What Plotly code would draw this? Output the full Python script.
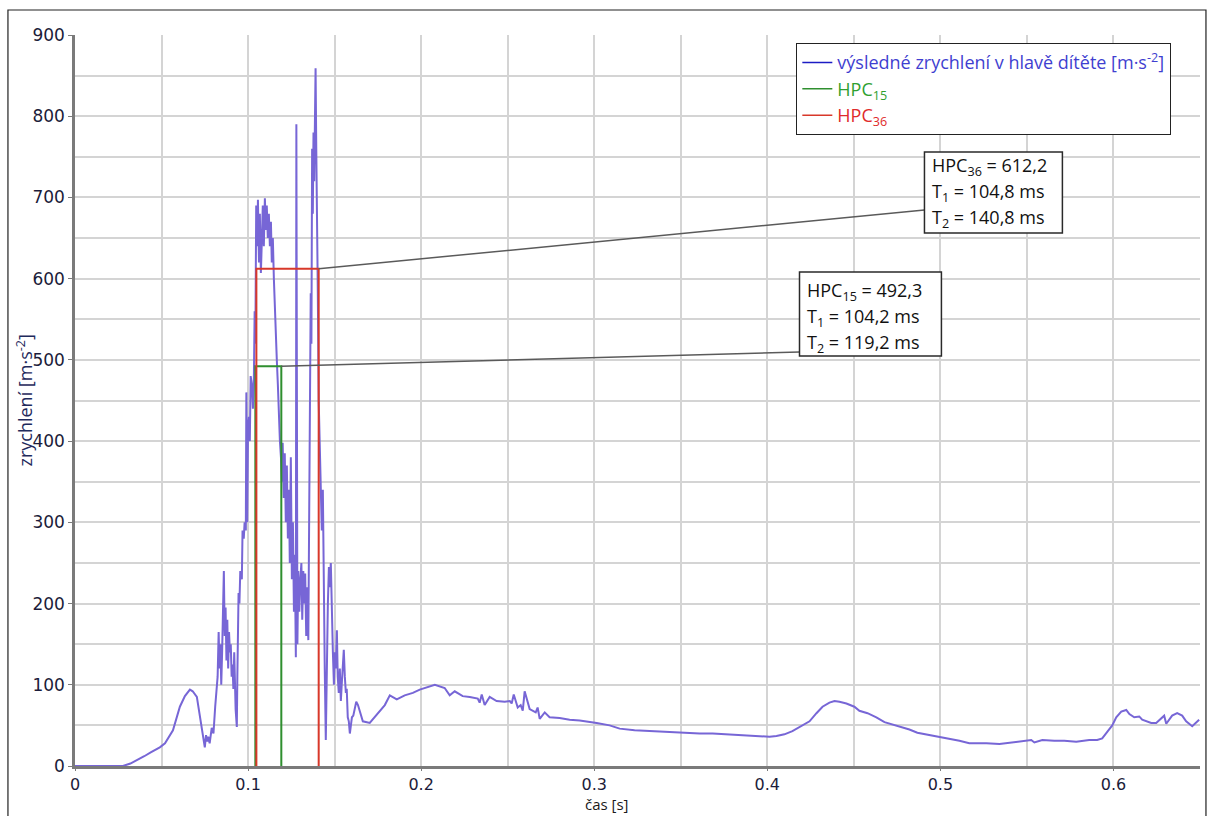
import plotly.graph_objects as go

# ---------------- data ----------------
t = [0.000, 0.010, 0.020, 0.0277, 0.032, 0.036, 0.040, 0.044, 0.049, 0.052, 0.0566, 0.0606,
     0.0635, 0.0664, 0.068, 0.0704, 0.0722, 0.0735, 0.075, 0.0757, 0.0765, 0.077, 0.0778,
     0.079, 0.080, 0.081, 0.0818, 0.0824, 0.083, 0.0835, 0.084, 0.0845, 0.085, 0.086,
     0.0865, 0.087, 0.0875, 0.088, 0.0885, 0.089, 0.0895, 0.090, 0.0905, 0.091, 0.0915,
     0.092, 0.0928, 0.0935, 0.0938, 0.0945, 0.095, 0.0955, 0.0964, 0.0968, 0.0975, 0.098,
     0.0987, 0.099, 0.0995, 0.100, 0.1005, 0.101, 0.1015, 0.1022, 0.1028, 0.1033, 0.1038,
     0.1042, 0.1047, 0.1052, 0.1057, 0.1063, 0.1068, 0.1074, 0.108, 0.1085, 0.1091, 0.1097,
     0.1103, 0.1108, 0.1114, 0.112, 0.1126, 0.1132, 0.1137, 0.1143, 0.1149, 0.1155, 0.116,
     0.1166, 0.1172, 0.1178, 0.1184, 0.119, 0.1195, 0.120, 0.1206, 0.1212, 0.1218, 0.1224,
     0.123, 0.1236, 0.1241, 0.1247, 0.1253, 0.1259, 0.1265, 0.127, 0.1276, 0.1279, 0.1285,
     0.129, 0.1296, 0.1302, 0.1308, 0.1313, 0.1319, 0.1325, 0.133, 0.1336, 0.1342, 0.1348,
     0.1353, 0.1357, 0.1362, 0.1366, 0.137, 0.1374, 0.1378, 0.1382, 0.1386, 0.139, 0.1394,
     0.1398, 0.1403, 0.1408, 0.1413, 0.142, 0.1426, 0.1432, 0.1437, 0.1443, 0.1449, 0.1455,
     0.1461, 0.1467, 0.1472, 0.1478, 0.1484, 0.149, 0.1496, 0.1501, 0.1507, 0.1513, 0.1518,
     0.1524, 0.153, 0.1536, 0.1541, 0.1547, 0.1553, 0.1559, 0.1565, 0.157, 0.1576, 0.1582,
     0.1588, 0.1594, 0.160, 0.1608, 0.1617, 0.1625, 0.1635, 0.1645, 0.1655, 0.1663, 0.1703,
     0.1749, 0.179, 0.1819, 0.1859, 0.1905, 0.1952, 0.1992, 0.2038, 0.2079, 0.2136, 0.2165,
     0.2194, 0.224, 0.2281, 0.2327, 0.2338, 0.235, 0.2367, 0.2396, 0.2436, 0.2483, 0.2512,
     0.2523, 0.2535, 0.2558, 0.2575, 0.2587, 0.2598, 0.2627, 0.2662, 0.2673, 0.2685, 0.2714,
     0.2742, 0.280, 0.2858, 0.2916, 0.3014, 0.3089, 0.3147, 0.3233, 0.332, 0.3406, 0.3493,
     0.3609, 0.3684, 0.3782, 0.3868, 0.3938, 0.4013, 0.4053, 0.4099, 0.4145, 0.4186, 0.4244,
     0.4284, 0.4319, 0.4359, 0.4388, 0.4417, 0.4457, 0.4503, 0.4532, 0.4579, 0.463, 0.4677,
     0.4723, 0.4763, 0.4821, 0.4867, 0.4919, 0.4965, 0.5012, 0.5052, 0.511, 0.5167, 0.5266,
     0.5341, 0.5381, 0.5427, 0.5497, 0.5525, 0.5543, 0.5589, 0.5658, 0.5716, 0.5785, 0.586,
     0.5906, 0.5935, 0.5964, 0.5993, 0.6016, 0.6045, 0.6074, 0.6092, 0.612, 0.6149, 0.6166,
     0.6218, 0.6247, 0.6264, 0.6282, 0.6293, 0.6305, 0.6339, 0.6368, 0.6397, 0.642, 0.6455,
     0.6495]
a = [0, 0, 0, 0, 3, 7, 12, 17, 23, 28, 44, 73,
     86, 94, 92, 85, 60, 40, 23, 38, 30, 36, 28,
     47, 40, 73, 90, 110, 165, 120, 150, 100, 140, 240,
     160, 195, 130, 180, 120, 165, 140, 150, 110, 125, 95, 140,
     70, 48, 110, 213, 200, 240, 230, 290, 280, 300, 290,
     460, 300, 420, 430, 400, 480, 470, 440, 470, 560, 520,
     690, 640, 697, 620, 680, 607, 650, 690, 640, 699, 660,
     690, 650, 680, 640, 670, 620, 650, 600, 560, 520, 500,
     470, 430, 400, 380, 350, 398, 330, 385, 300, 370, 280,
     340, 250, 380, 230, 300, 190, 260, 134, 790, 150, 240,
     190, 230, 250, 180, 240, 200, 237, 160, 220, 155, 300,
     450, 582, 520, 760, 680, 780, 720, 800, 859, 760, 700,
     580, 450, 400, 330, 290, 340, 200, 120, 32, 150, 200,
     245, 220, 250, 180, 140, 100, 140, 120, 167, 110, 90,
     120, 80, 100, 130, 143, 110, 90, 95, 60, 55, 40,
     50, 60, 62, 70, 79, 75, 68, 60, 55, 53, 65,
     75, 87, 82, 87, 90, 94, 97, 100, 96, 87, 92,
     86, 85, 83, 78, 88, 75, 85, 80, 79, 80, 77,
     88, 72, 75, 68, 92, 70, 66, 72, 58, 66, 60,
     59, 57, 56, 53, 50, 46, 44, 43, 42, 41, 40,
     40, 39, 38, 37, 36, 37, 39, 43, 48, 55, 65,
     73, 78, 80, 79, 77, 73, 68, 65, 60, 54, 51,
     48, 45, 41, 39, 37, 35, 33, 31, 28, 28, 27,
     28, 30, 31, 32, 29, 32, 31, 31, 30, 32, 32,
     34, 42, 50, 60, 67, 69, 64, 60, 61, 57, 53,
     53, 56, 59, 62, 52, 62, 65, 62, 55, 49, 57,
     66]

hpc15_value, hpc15_t1_ms, hpc15_t2_ms = 492.3, 104.2, 119.2
hpc36_value, hpc36_t1_ms, hpc36_t2_ms = 612.2, 104.8, 140.8

x_ticks = [0, 0.1, 0.2, 0.3, 0.4, 0.5, 0.6]
x_tick_labels = ["0", "0.1", "0.2", "0.3", "0.4", "0.5", "0.6"]
y_ticks = [0, 100, 200, 300, 400, 500, 600, 700, 800, 900]
y_tick_labels = [str(v) for v in y_ticks]

series_name = "výsledné zrychlení v hlavě dítěte [m·s<sup>-2</sup>]"

# ---------------- styles ----------------
CURVE = "#7766d6"
LEG_BLUE = "#1c1cc4"
GREEN = "#2f8f2f"
RED = "#d8382a"
GRID = "#d4d4d4"
AXIS = "#7a7a7a"
TICKFONT = dict(family="DejaVu Sans", size=17, color="#1c1c3a")
XTICKFONT = dict(family="DejaVu Sans", size=16, color="#1c1c3a")
TEXTFONT = "Open Sans"


def cz(v):
    return f"{v:.1f}".replace(".", ",")


def hpc_box(tms1, tms2, val):
    x1, x2 = tms1 / 1000.0, tms2 / 1000.0
    return [x1, x1, x2, x2], [0, val, val, 0]


fig = go.Figure()

fig.add_trace(go.Scatter(x=t, y=a, mode="lines", line=dict(color=CURVE, width=2),
                         showlegend=False, hoverinfo="skip"))

gx, gy = hpc_box(hpc15_t1_ms, hpc15_t2_ms, hpc15_value)
fig.add_trace(go.Scatter(x=gx, y=gy, mode="lines", line=dict(color=GREEN, width=2),
                         showlegend=False, hoverinfo="skip"))
rx, ry = hpc_box(hpc36_t1_ms, hpc36_t2_ms, hpc36_value)
fig.add_trace(go.Scatter(x=rx, y=ry, mode="lines", line=dict(color=RED, width=2),
                         showlegend=False, hoverinfo="skip"))

# legend-only entries
fig.add_trace(go.Scatter(x=[None], y=[None], mode="lines", line=dict(color=LEG_BLUE, width=1.5),
                         name=f'<span style="color:#3f3fd0">{series_name}</span>'))
fig.add_trace(go.Scatter(x=[None], y=[None], mode="lines", line=dict(color=GREEN, width=1.5),
                         name='<span style="color:#2fa02f">HPC<sub>15</sub></span>'))
fig.add_trace(go.Scatter(x=[None], y=[None], mode="lines", line=dict(color=RED, width=1.5),
                         name='<span style="color:#e02a2a">HPC<sub>36</sub></span>'))

shapes = []
annotations = []

# annotation boxes (layout positions in data coordinates)
boxes = [
    ("36", hpc36_value, hpc36_t1_ms, hpc36_t2_ms, 0.4908, 0.5705, 756.0, 656.3, 684.6,
     [738.0, 706.0, 674.0]),
    ("15", hpc15_value, hpc15_t1_ms, hpc15_t2_ms, 0.4186, 0.5006, 608.2, 504.8, 509.7,
     [584.0, 552.0, 520.0]),
]
for sub, val, t1, t2, bx0, bx1, byt, byb, cy, lys in boxes:
    shapes.append(dict(type="line", xref="x", yref="y", x0=t2 / 1000.0, y0=val, x1=bx0, y1=cy,
                       line=dict(color="#5a5a5a", width=1.5), layer="above"))
    shapes.append(dict(type="rect", xref="x", yref="y", x0=bx0, x1=bx1, y0=byb, y1=byt,
                       fillcolor="white", line=dict(color="#2a2a2a", width=1.5), layer="above"))
    lines = [f"HPC<sub>{sub}</sub> = {cz(val)}",
             f"T<sub>1</sub> = {cz(t1)} ms",
             f"T<sub>2</sub> = {cz(t2)} ms"]
    for txt, ly in zip(lines, lys):
        annotations.append(dict(x=bx0 + 0.003, y=ly, xref="x", yref="y", text=txt,
                                showarrow=False, xanchor="left", yanchor="middle",
                                font=dict(family=TEXTFONT, size=18, color="#111111")))

# outer frame of the picture
shapes.append(dict(type="rect", xref="paper", yref="paper", x0=-0.0596, x1=1.0053,
                   y0=-0.09, y1=1.0342, line=dict(color="#222222", width=1.2), layer="below"))

# axis titles
annotations.append(dict(x=-0.0453, y=0.5, xref="paper", yref="paper",
                        text="zrychlení [m·s<sup>-2</sup>]", textangle=-90, showarrow=False,
                        font=dict(family=TEXTFONT, size=18, color="#1f2a5c"),
                        xanchor="center", yanchor="middle"))
annotations.append(dict(x=0.473, y=-0.052, xref="paper", yref="paper", text="čas [s]",
                        showarrow=False, font=dict(family=TEXTFONT, size=15, color="#1a1a1a"),
                        xanchor="center", yanchor="middle"))

fig.update_layout(
    width=1208, height=816,
    margin=dict(l=75, r=8, t=35, b=50),
    paper_bgcolor="white", plot_bgcolor="white",
    shapes=shapes, annotations=annotations,
    legend=dict(x=0.641, y=0.989, xanchor="left", yanchor="top",
                bordercolor="#222222", borderwidth=1.2, bgcolor="white",
                font=dict(family=TEXTFONT, size=18), itemwidth=30, tracegroupgap=0,
                traceorder="normal"),
    xaxis=dict(range=[0, 0.65], tickvals=x_ticks, ticktext=x_tick_labels,
               showgrid=True, gridcolor=GRID, gridwidth=1.5,
               minor=dict(dtick=0.05, tick0=0, showgrid=True, gridcolor=GRID, gridwidth=1.5),
               showline=True, linecolor=AXIS, linewidth=2.5,
               ticks="outside", ticklen=2, tickcolor=AXIS, tickfont=XTICKFONT, zeroline=False),
    yaxis=dict(range=[0, 900], tickvals=y_ticks, ticktext=y_tick_labels,
               showgrid=True, gridcolor=GRID, gridwidth=1.5,
               minor=dict(dtick=50, tick0=0, showgrid=True, gridcolor=GRID, gridwidth=1.5),
               showline=True, linecolor=AXIS, linewidth=2.5,
               ticks="outside", ticklen=4, tickcolor=AXIS, tickfont=TICKFONT, zeroline=False),
)

fig.write_html("out.html")
